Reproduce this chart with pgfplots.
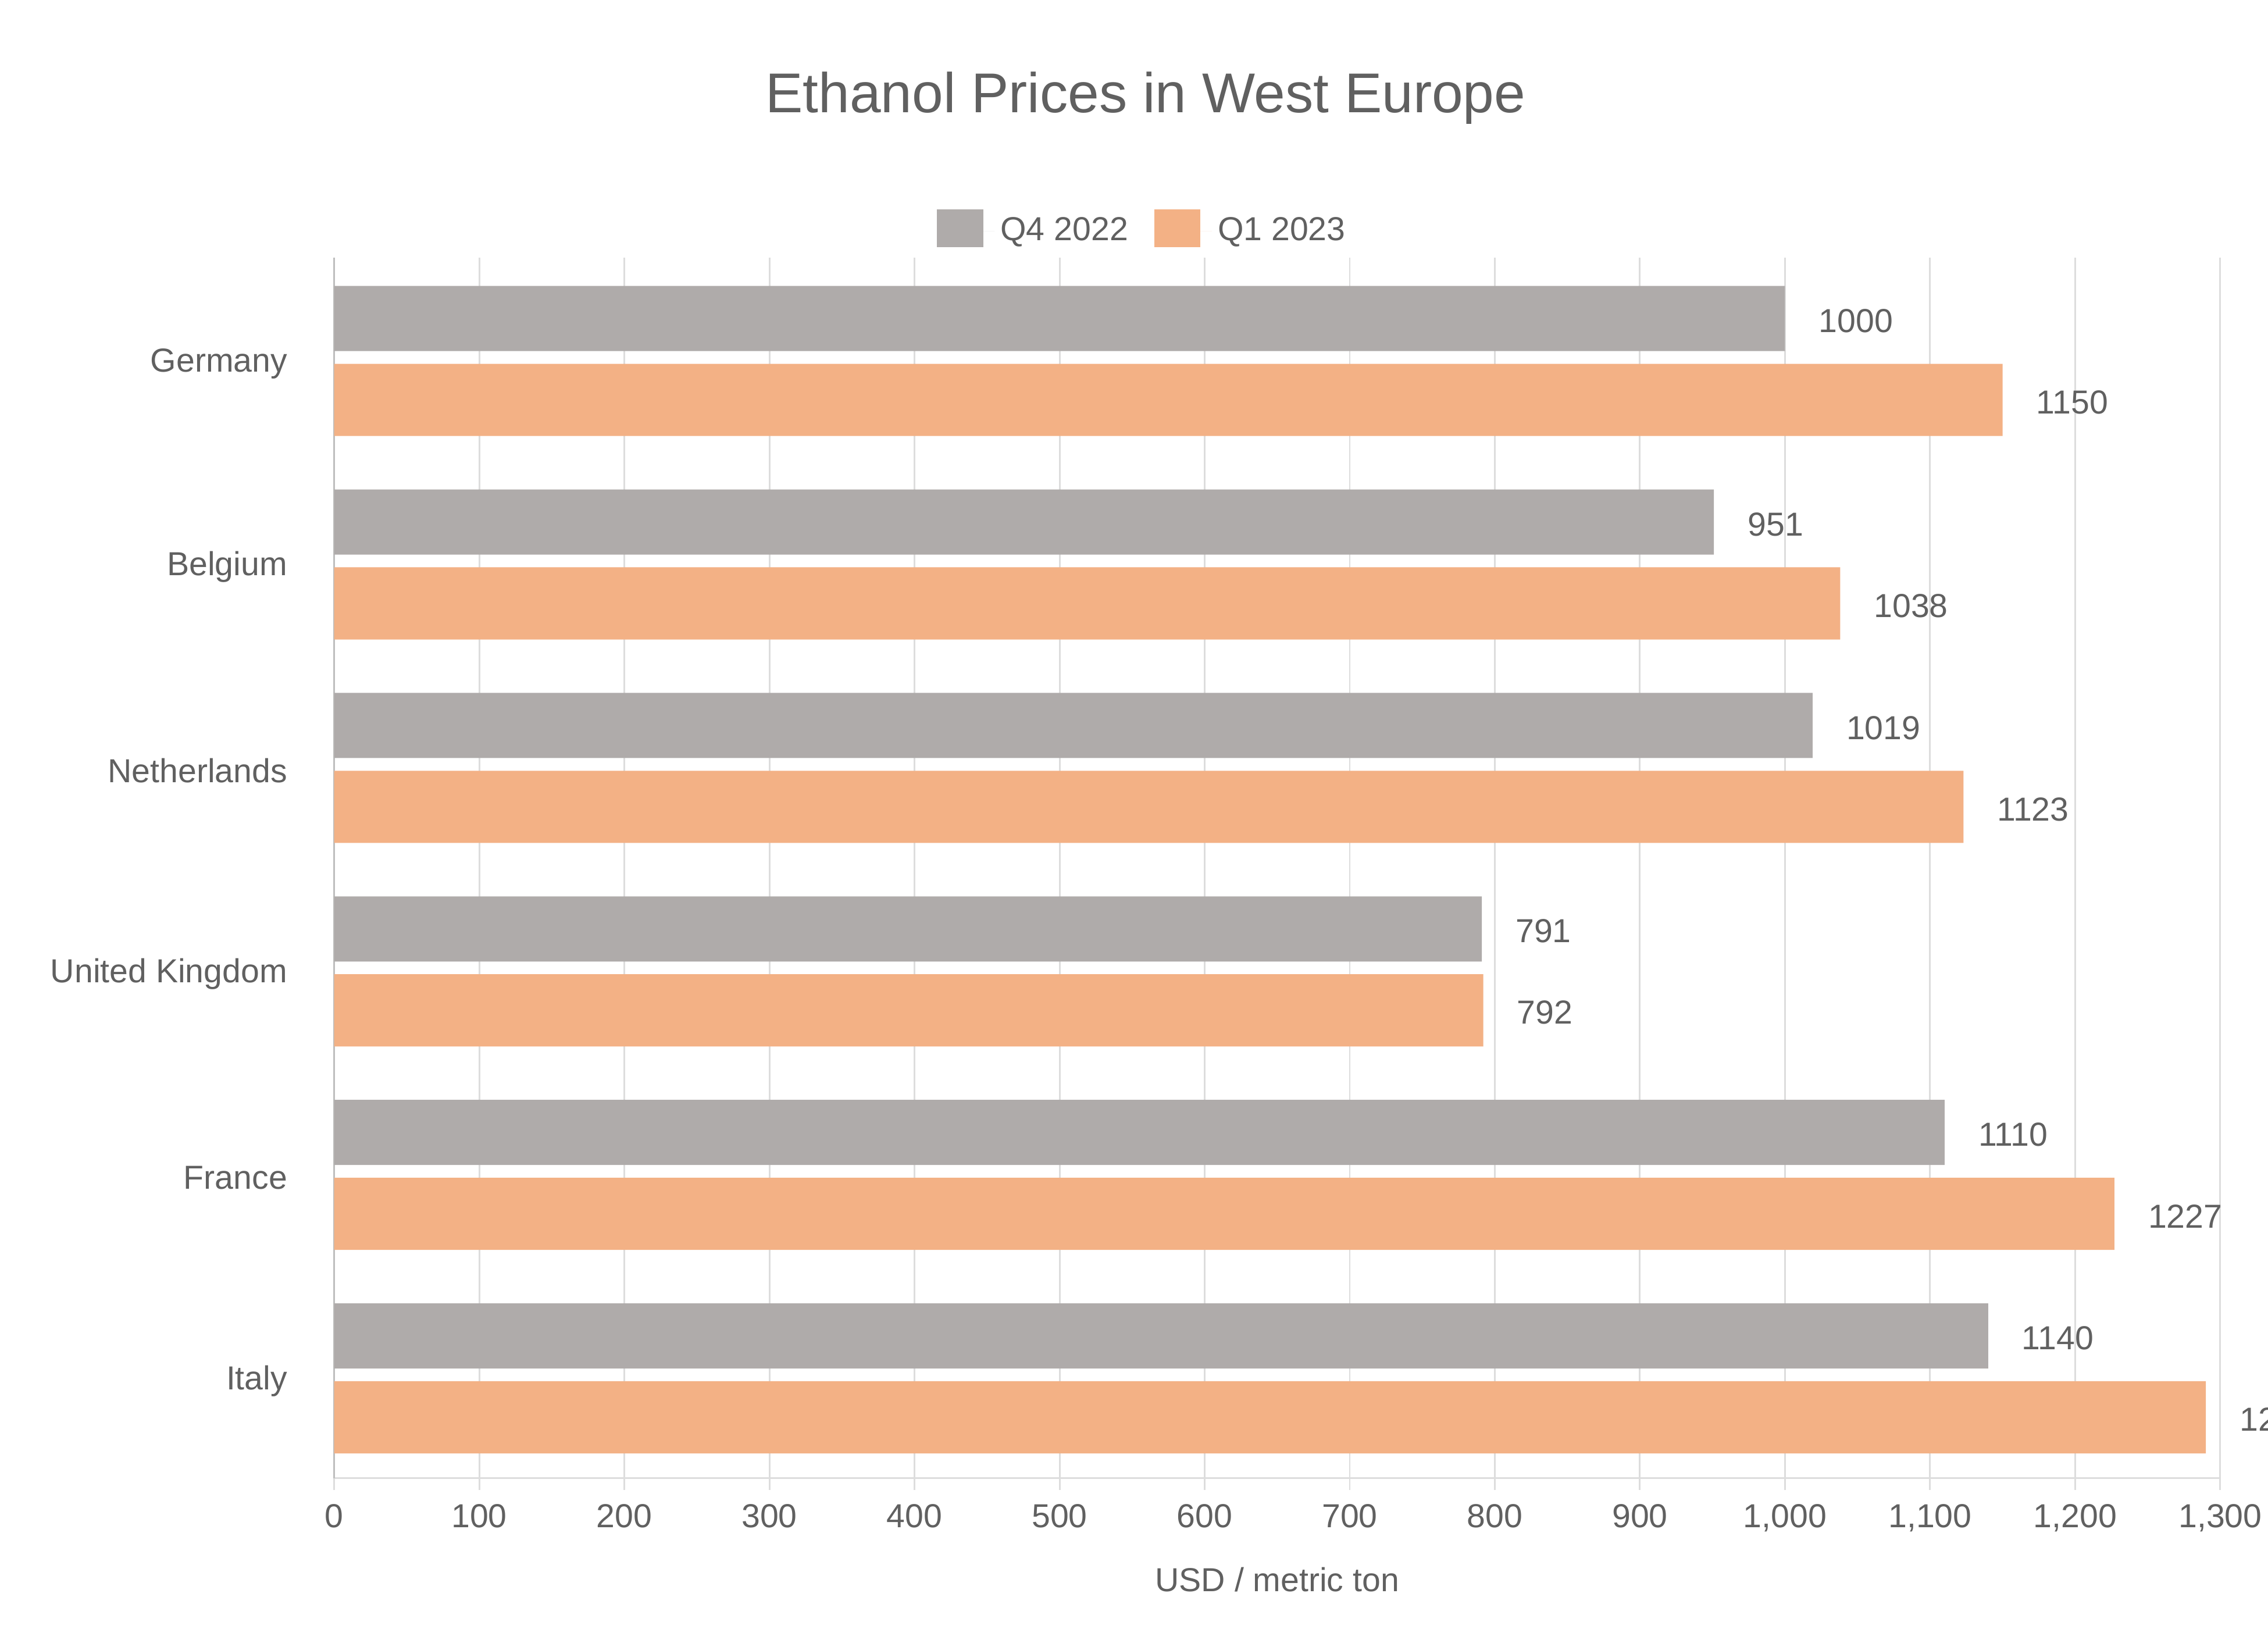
\documentclass[border=0pt]{standalone}
\usepackage{pgfplots}
\pgfplotsset{compat=1.18}
\usepackage{fontspec}
\setmainfont{Liberation Sans}
\usetikzlibrary{calc}
\definecolor{txt}{RGB}{96,96,96}
\definecolor{grayb}{RGB}{175,171,170}
\definecolor{orangeb}{RGB}{243,177,133}
\definecolor{gridc}{RGB}{221,221,221}
\definecolor{axc}{RGB}{190,190,190}
\begin{document}
\begin{tikzpicture}[font=\fontsize{11.5}{13}\selectfont, text=txt]
\begin{axis}[
  name=ax,
  scale only axis, width=652pt, height=422pt,
  xbar,
  xmin=0, xmax=1300, ymin=-0.5, ymax=5.5, y dir=reverse,
  xtick={0,100,...,1300},
  ytick={0,...,5},
  yticklabels={Germany,Belgium,Netherlands,United Kingdom,France,Italy},
  axis x line*=bottom, axis y line*=left,
  x axis line style={draw=gridc, line width=0.6pt, -},
  y axis line style={draw=axc, line width=0.6pt, -},
  xmajorgrids, grid style={draw=gridc, line width=0.6pt},
  xtick style={draw=gridc, line width=0.6pt},
  ytick style={draw=none},
  tick align=outside, major tick length=4pt,
  /pgf/number format/1000 sep={,},
  /pgf/number format/assume math mode=true,
  xticklabel style={text=txt, yshift=-1.5pt},
  yticklabel style={text=txt, inner xsep=0pt, xshift=-12pt, yshift=-1.5pt},
  xlabel={USD / metric ton},
  xlabel style={at={(axis description cs:0.5,0)}, anchor=center, yshift=-35pt, text=txt},
  title={Ethanol Prices in West Europe},
  title style={at={(axis description cs:0.4302,1)}, anchor=base, yshift=44pt, font=\fontsize{19.4}{22}\selectfont, text=txt},
  legend style={at={(0.4294,1.0224)}, anchor=center, draw=none, fill=none, legend columns=2, text=txt,
    /tikz/every even column/.append style={column sep=7pt}},
  legend image code/.code={\fill[#1] (0pt,-5.5pt) rectangle (16pt,7.5pt); \path (0pt,0pt) -- (20pt,0pt);},
  nodes near coords={\pgfmathprintnumber[fixed,precision=0,1000 sep={},assume math mode=true]{\pgfplotspointmeta}},
  every node near coord/.append style={text=txt, inner xsep=0pt, xshift=11.5pt, yshift=-0.8pt},
]
\addplot[fill=grayb, draw=none, bar width=0.32, bar shift=-0.2] coordinates {(1000,0) (951,1) (1019,2) (791,3) (1110,4) (1140,5)};
\addplot[fill=orangeb, draw=none, bar width=0.355, bar shift=0.2] coordinates {(1150,0) (1038,1) (1123,2) (792,3) (1227,4) (1290,5)};
\legend{Q4 2022, Q1 2023}
\end{axis}
\pgfresetboundingbox
\path[use as bounding box] ($(ax.south west)+(-115.5pt,-52pt)$) rectangle ($(ax.north east)+(16.5pt,89pt)$);
\end{tikzpicture}
\end{document}
